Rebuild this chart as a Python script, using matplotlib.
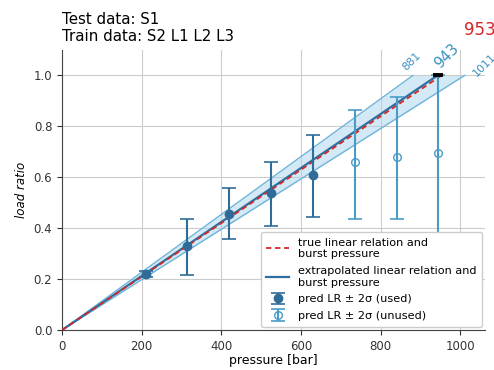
import numpy as np
import matplotlib
matplotlib.use("Agg")
import matplotlib.pyplot as plt

# data
pressure_used = [210, 315, 420, 525, 630]
lr_used = [0.22, 0.33, 0.455, 0.537, 0.61]
lo_used = [0.208, 0.217, 0.358, 0.41, 0.445]
hi_used = [0.232, 0.437, 0.558, 0.659, 0.767]

pressure_unused = [735, 840, 945]
lr_unused = [0.66, 0.678, 0.697]
lo_unused = [0.437, 0.437, 0.10]
hi_unused = [0.866, 0.917, 1.0]

true_burst = 953
extrap_burst = 943
band_lo = 881
band_hi = 1011

c_used = "#2f6d98"
c_unused = "#4a9cc6"
c_line = "#2f6f9f"
c_band = "#a9d5ec"
c_text = "#3a8fc0"

fig = plt.figure(figsize=(4.94, 3.70), dpi=100)
ax = fig.add_axes([0.1255, 0.108, 0.857, 0.757])

ys = np.array([0.0, 1.0])
ax.fill_betweenx(ys, band_lo * ys, band_hi * ys, color=c_band, alpha=0.5, lw=0, zorder=1)
ax.plot(band_lo * ys, ys, color="#6fb4da", lw=1.0, zorder=1.5)
ax.plot(band_hi * ys, ys, color="#6fb4da", lw=1.0, zorder=1.5)

ax.plot(extrap_burst * ys, ys, color=c_line, lw=1.6, zorder=2,
        label="extrapolated linear relation and\nburst pressure")
ax.plot(true_burst * ys, ys, color="#d62728", lw=1.3, ls=(0, (3, 2)), zorder=3,
        label="true linear relation and\nburst pressure")

lu = np.array(lr_used)
ax.errorbar(pressure_used, lu, yerr=[lu - np.array(lo_used), np.array(hi_used) - lu],
            fmt="o", ms=6, color=c_used, ecolor=c_used, elinewidth=1.5, capsize=5,
            capthick=1.2, zorder=4, label="pred LR ± 2σ (used)")
ln = np.array(lr_unused)
ax.errorbar(pressure_unused, ln, yerr=[ln - np.array(lo_unused), np.array(hi_unused) - ln],
            fmt="o", ms=5.5, mfc="none", mec=c_unused, color=c_unused, ecolor=c_unused,
            elinewidth=1.5, capsize=5, capthick=1.2, zorder=4,
            label="pred LR ± 2σ (unused)")

ax.plot([extrap_burst], [1.0], marker="_", ms=7, mew=2.8, color="k", zorder=5)

ax.text(band_lo - 2, 1.055, str(band_lo), rotation=45, color=c_text, fontsize=8,
        ha="center", va="center", clip_on=False)
ax.text(extrap_burst + 22, 1.075, str(extrap_burst), rotation=45, color=c_text, fontsize=10.5,
        ha="center", va="center", clip_on=False)
ax.text(band_hi + 50, 1.04, str(band_hi), rotation=45, color=c_text, fontsize=8,
        ha="center", va="center", clip_on=False)
ax.text(1048, 1.18, str(true_burst), color="#d62728", fontsize=12,
        ha="center", va="center", clip_on=False)

ax.set_xlim(0, 1063)
ax.set_ylim(0, 1.1)
ax.set_xticks([0, 200, 400, 600, 800, 1000])
ax.set_yticks([0.0, 0.2, 0.4, 0.6, 0.8, 1.0])
ax.grid(True, color="#cccccc", lw=0.8)
ax.set_axisbelow(True)
for s in ["top", "right"]:
    ax.spines[s].set_visible(False)
for s in ["left", "bottom"]:
    ax.spines[s].set_color("#444444")
ax.tick_params(labelsize=8.5, colors="#333333")
ax.set_xlabel("pressure [bar]", fontsize=9, labelpad=1)
ax.set_ylabel("load ratio", fontsize=8.5, style="italic")

handles, labels = ax.get_legend_handles_labels()
order = [1, 0, 2, 3]
leg = ax.legend([handles[i] for i in order], [labels[i] for i in order], loc="lower right",
                fontsize=8.1, framealpha=1.0, borderaxespad=0.3, labelspacing=0.6,
                handlelength=2.0, borderpad=0.5)
leg.set_zorder(10)

fig.text(0.1255, 0.882, "Test data: S1\nTrain data: S2 L1 L2 L3", fontsize=10.8,
         ha="left", va="bottom", linespacing=1.15)

fig.savefig("out.png", dpi=100)
